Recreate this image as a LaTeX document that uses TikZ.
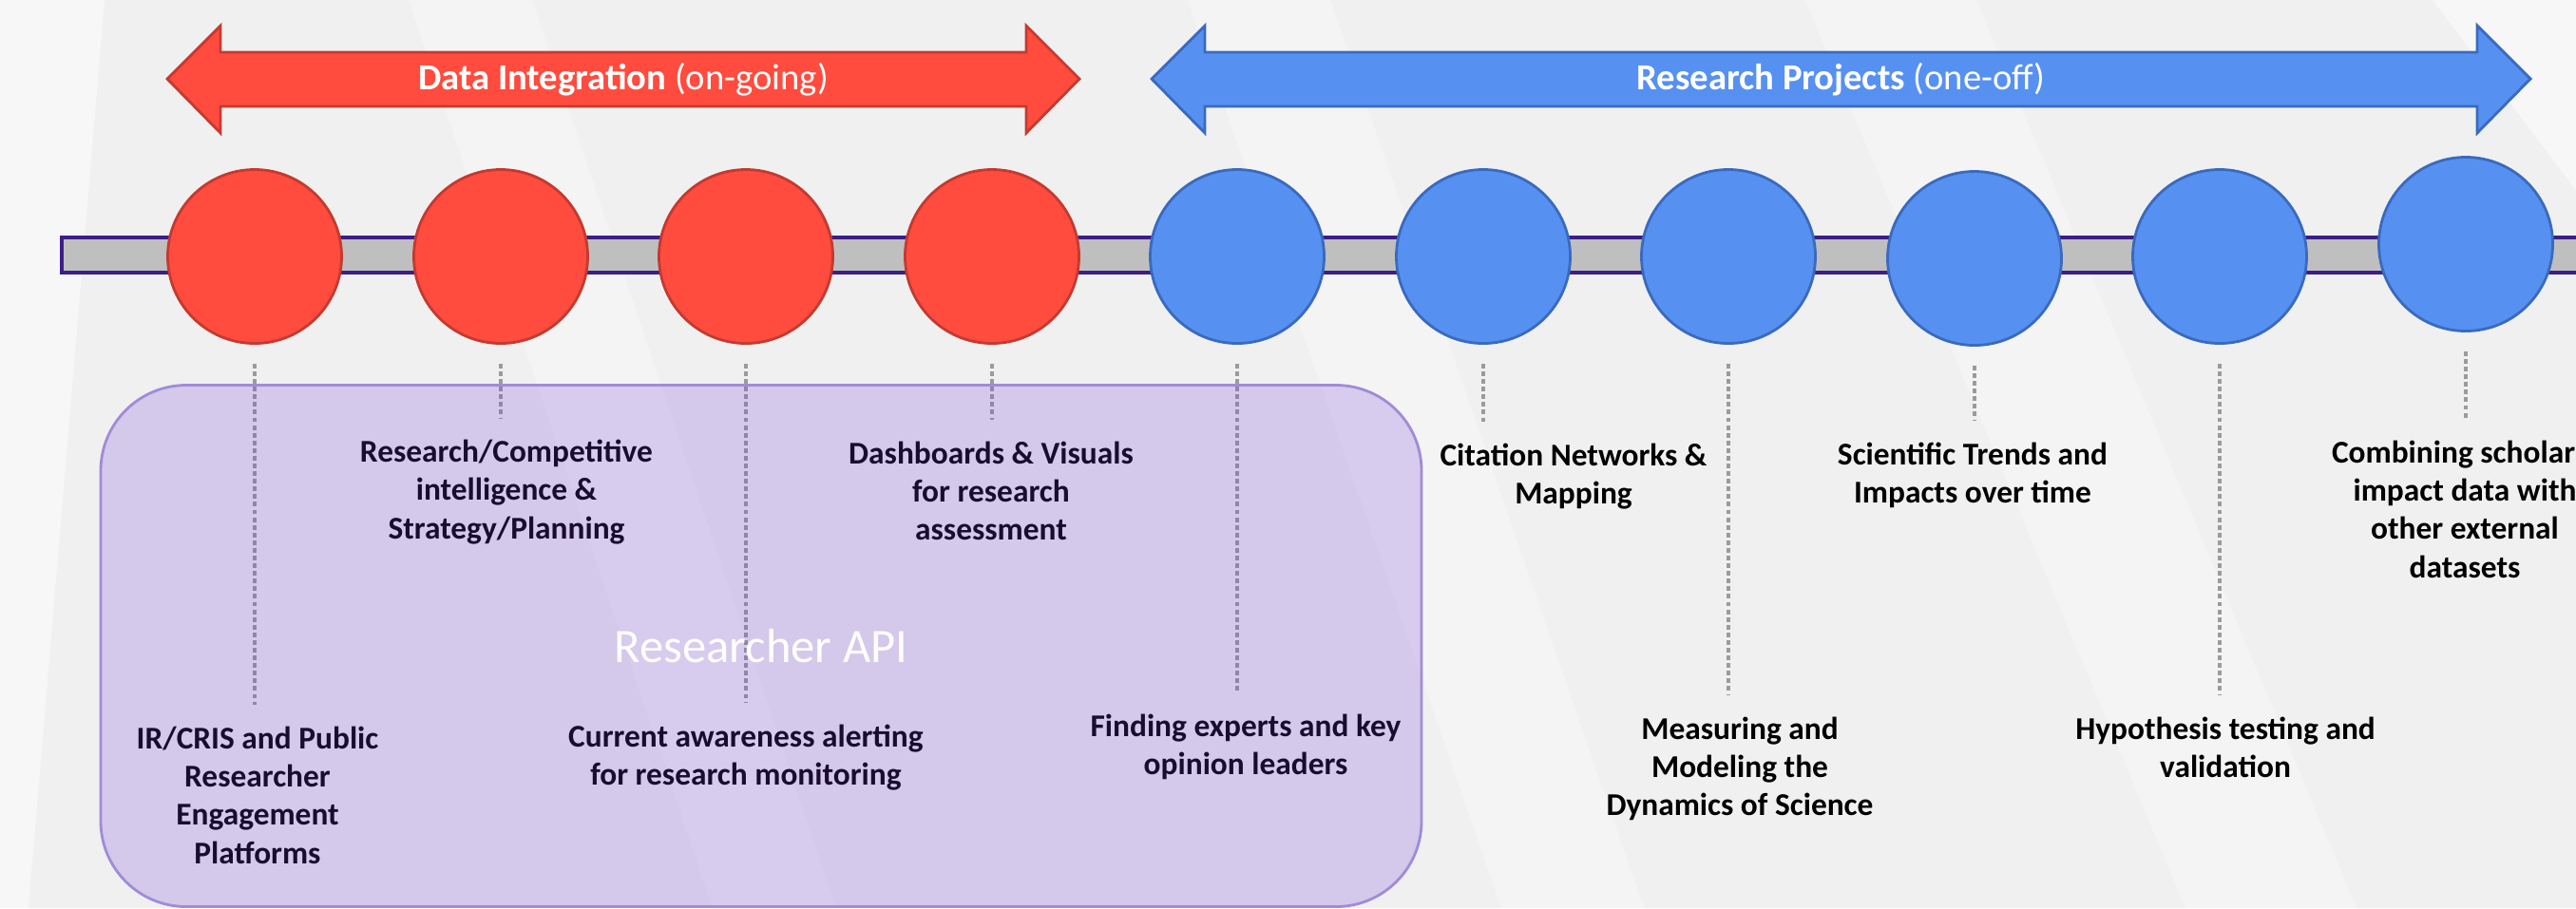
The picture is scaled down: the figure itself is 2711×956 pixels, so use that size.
\documentclass[tikz,border=0pt]{standalone}
\usepackage{fontspec}
\setmainfont{Carlito}
\usetikzlibrary{positioning}

\definecolor{dotred}{RGB}{255,76,62}
\definecolor{dotredline}{RGB}{196,58,48}
\definecolor{dotblue}{RGB}{86,145,242}
\definecolor{dotblueline}{RGB}{58,106,190}
\definecolor{barfill}{RGB}{191,191,191}
\definecolor{barline}{RGB}{60,30,135}
\definecolor{apifill}{RGB}{113,59,218}
\definecolor{apiline}{RGB}{160,140,215}
\definecolor{leadgrey}{RGB}{155,155,155}
\definecolor{bggrey}{RGB}{240,240,240}

\tikzset{
  dotnode/.style={circle, minimum size=18.3mm, inner sep=0pt, line width=0.8pt},
  lbl/.style={font=\fontsize{9.5}{11.5}\selectfont\bfseries, align=center, inner sep=0pt, anchor=north},
  spanlbl/.style={font=\fontsize{11}{13}\selectfont, text=white, inner sep=0pt},
  lead/.style={leadgrey, line width=0.9pt, dash pattern=on 1.4pt off 0.9pt, shorten <=2mm, shorten >=2.2mm},
  apinode/.style={draw=apiline, line width=0.8pt, fill=apifill, fill opacity=0.22, text opacity=1,
    rounded corners=9mm, minimum width=139mm, minimum height=54.9mm, text=white,
    font=\fontsize{14.4}{16}\selectfont}
}

\begin{document}
\begin{tikzpicture}[x=0.1mm,y=-0.1mm]

\useasboundingbox (0,0) rectangle (2711,956);
\clip (0,0) rectangle (2711,956);
\fill[bggrey] (0,0) rectangle (2711,956);

% faint streaks in the background
\fill[white, opacity=0.5] (0,0) -- (110,0) -- (30,956) -- (0,956) -- cycle;
\fill[white, opacity=0.3] (430,0) -- (560,0) -- (880,956) -- (750,956) -- cycle;
\fill[white, opacity=0.3] (1250,0) -- (1400,0) -- (1730,956) -- (1580,956) -- cycle;
\fill[white, opacity=0.3] (1900,0) -- (2080,0) -- (2480,956) -- (2300,956) -- cycle;
\fill[white, opacity=0.5] (2560,0) -- (2711,0) -- (2711,200) -- cycle;

% time line
\filldraw[fill=barfill, draw=barline, line width=0.9pt] (65,250) rectangle (2760,287);

% the two spans
\foreach \n/\l/\r/\c/\bold/\rest in {integ/176/1136/dotred/Data Integration/on-going,
                                     proj/1212/2663/dotblue/Research Projects/one-off} {
  \filldraw[fill=\c, draw=\c line, line width=0.8pt]
    (\l,83) -- (\l+56,27) -- (\l+56,55) -- (\r-56,55) -- (\r-56,27) -- (\r,83)
    -- (\r-56,140) -- (\r-56,112) -- (\l+56,112) -- (\l+56,140) -- cycle;
  \node[spanlbl] (\n) at ({(\l+\r)/2},84) {\textbf{\bold} (\rest)};
}

% stops on the line
\foreach \i/\x/\y/\c in {1/268/270/dotred, 2/527/270/dotred, 3/785/270/dotred, 4/1044/270/dotred,
                        5/1302/270/dotblue, 6/1561/270/dotblue, 7/1819/270/dotblue,
                        8/2078/272/dotblue, 9/2336/270/dotblue, 10/2595/257/dotblue}
  \node[dotnode, fill=\c, draw=\c line] (c\i) at (\x,\y) {};

% labels
\node[lbl] (l1) at (271,764) {IR/CRIS and Public\\Researcher\\Engagement\\Platforms};
\node[lbl] (l2) at (533,462) {Research/Competitive\\intelligence \&\\Strategy/Planning};
\node[lbl] (l3) at (785,762) {Current awareness alerting\\for research monitoring};
\node[lbl] (l4) at (1043,464) {Dashboards \& Visuals\\for research\\assessment};
\node[lbl] (l5) at (1311,751) {Finding experts and key\\opinion leaders};
\node[lbl] (l6) at (1656,466) {Citation Networks \&\\Mapping};
\node[lbl] (l7) at (1831,754) {Measuring and\\Modeling the\\Dynamics of Science};
\node[lbl] (l8) at (2076,465) {Scientific Trends and\\Impacts over time};
\node[lbl] (l9) at (2342,754) {Hypothesis testing and\\validation};
\node[lbl] (l10) at (2594,463) {Combining scholarly\\impact data with\\other external\\datasets};

\foreach \i in {1,...,10}
  \draw[lead] (c\i.south) -- (c\i.south |- l\i.north);

% api box over the first five
\node[apinode] (api) at (801,680) {Researcher API};

\end{tikzpicture}
\end{document}
